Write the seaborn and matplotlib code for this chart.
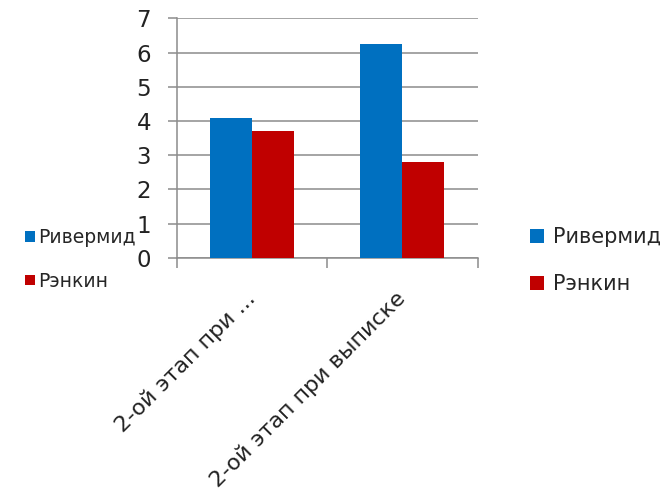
import matplotlib
matplotlib.use("Agg")
import matplotlib.pyplot as plt
import seaborn as sns
import pandas as pd

categories = ["2-ой этап при ...", "2-ой этап при выписке"]
series_names = ["Ривермид", "Рэнкин"]
rivermead = [4.1, 6.25]
rankin = [3.7, 2.8]
yticks = [0, 1, 2, 3, 4, 5, 6, 7]
colors = ["#0070C0", "#C00000"]

df = pd.DataFrame({
    "cat": categories * 2,
    "series": [series_names[0]] * 2 + [series_names[1]] * 2,
    "value": rivermead + rankin,
})

sns.set_theme(style="white")
plt.rcParams["font.family"] = ["DejaVu Sans"]

fig = plt.figure(figsize=(6.67, 4.98), dpi=100)
ax = fig.add_axes([0.265, 0.4825, 0.451, 0.4805])

sns.barplot(data=df, x="cat", y="value", hue="series", palette=colors,
            width=0.56, gap=0, saturation=1, linewidth=0, ax=ax, zorder=3)

handles, labels = ax.get_legend_handles_labels()
if ax.get_legend() is not None:
    ax.get_legend().remove()

grid_c = "#8c8c8c"
ax.set_ylim(0, 7)
ax.set_xlim(-0.5, 1.5)
ax.set_yticks(yticks)
ax.set_yticklabels([str(t) for t in yticks], fontsize=16.5, color="#222222")
ax.yaxis.grid(True, color=grid_c, linewidth=1.1, zorder=0)
ax.set_axisbelow(True)
ax.tick_params(axis="y", length=6.5, width=1.1, color=grid_c, pad=12, left=True)

ax.set_xticks([0, 1])
ax.set_xticklabels(categories, fontsize=16, rotation=45, ha="right",
                   va="center", rotation_mode="anchor", color="#222222")
ax.tick_params(axis="x", which="major", length=0, pad=27)
ax.set_xticks([-0.5, 0.5, 1.5], minor=True)
ax.tick_params(axis="x", which="minor", length=7, width=1.1, color=grid_c, bottom=True)
ax.set_xlabel("")
ax.set_ylabel("")

for s in ["top", "right"]:
    ax.spines[s].set_visible(False)
for s in ["left", "bottom"]:
    ax.spines[s].set_color(grid_c)
    ax.spines[s].set_linewidth(1.1)

# left (small) legend
fig.legend(handles, labels, loc="center left", bbox_to_anchor=(16 / 667, 1 - 259.5 / 498),
           frameon=False, borderpad=0, handlelength=0.5, handleheight=0.5,
           handletextpad=0.2, labelspacing=1.3,
           prop={"family": ["DejaVu Sans"], "size": 13.5})

# right (large) legend
fig.legend(handles, labels, loc="center left", bbox_to_anchor=(520 / 667, 1 - 260.5 / 498),
           frameon=False, borderpad=0, handlelength=0.65, handleheight=0.65,
           handletextpad=0.45, labelspacing=1.3,
           prop={"family": ["DejaVu Sans"], "size": 15})

fig.savefig("out.png", dpi=100)
